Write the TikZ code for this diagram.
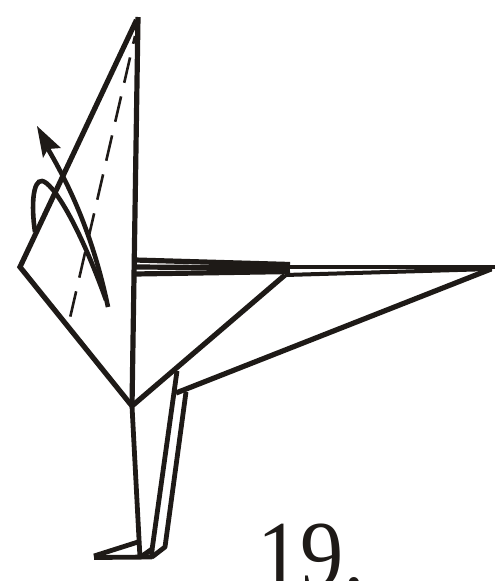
\documentclass[tikz,border=0pt]{standalone}
\usepackage{fontspec}
\setmainfont{Liberation Serif}
\definecolor{inkk}{HTML}{1E1A17}
\tikzset{
  fold/.style={line width=5.2pt,inkk,line join=miter},
  leg fold/.style={line width=4.8pt,inkk,line join=bevel},
  thin fold/.style={line width=4pt,inkk},
  wing fold/.style={line width=5.2pt,inkk},
  valley/.style={line width=2.6pt,inkk,dash pattern=on 26pt off 14pt},
  curl/.style={line width=4.6pt,inkk},
  stepnum/.style={inner sep=0pt,anchor=base west,text=inkk,xscale=.9,font=\fontsize{96}{96}\selectfont}
}
\begin{document}
\begin{tikzpicture}[x=1pt,y=-1pt]
\useasboundingbox (0,0) rectangle (497,581);
\clip (0,0) rectangle (497,581);
\coordinate (top) at (138,17);
\coordinate (left) at (20,267);
\coordinate (bottom) at (132,406);
\coordinate (tip) at (495,267);
\coordinate (wing) at (290,268);
\coordinate (neck) at (285,275);
% head
\draw[fold] (136.5,20) -- (left) -- (bottom);
\draw[fold] (top) -- (bottom);
\draw[valley,dash phase=18pt] (135,36) -- (70,318);
% wing folds
\draw[wing fold] (135,260) -- (290,264.5);
\draw[wing fold] (135,267) -- (wing);
\draw[wing fold] (135,274) -- (290,271.5);
\draw[thin fold] (288,267) -- (tip);
\draw[thin fold] (neck) -- (492,269);
\draw[fold] (neck) -- (bottom);
\draw[fold] (491,269) -- (176,393);
% leg
\draw[leg fold] (bottom) -- (140,558);
\draw[leg fold] (177,371) -- (152,550);
\draw[leg fold] (186,392) -- (165,547) -- (152,557);
% foot
\draw[leg fold] (138,542) -- (94,556);
\draw[leg fold] (94,557.5) -- (152,557) -- (152,549) -- (142,556);
% arrow
\draw[curl] (35,232) .. controls (31,205) and (33,180) .. (42,181)
  .. controls (52,182) and (78,222) .. (106,300);
\draw[curl] (108,307) .. controls (95,245) and (75,195) .. (48,149);
\fill[inkk] (37,126) -- (61,148) -- (48,149) -- (43,158) -- cycle;
\node[stepnum] (num) at (257,587) {19.};
\end{tikzpicture}
\end{document}
